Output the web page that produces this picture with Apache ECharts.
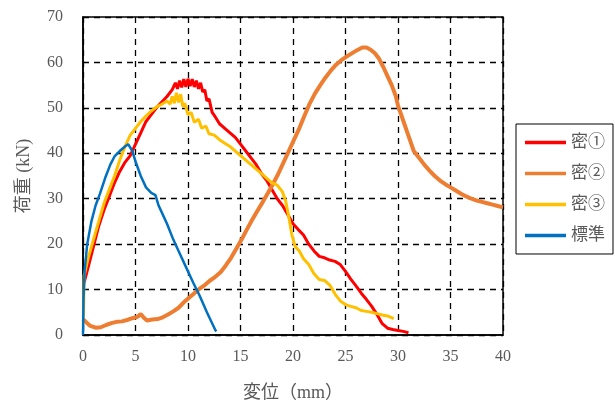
<!DOCTYPE html>
<html><head><meta charset="utf-8">
<script src="https://cdn.jsdelivr.net/npm/echarts@6/dist/echarts.min.js"></script>
<style>html,body{margin:0;padding:0;background:#fff}#c{width:615px;height:407px}</style>
</head><body><div id="c"></div>
<script>
const seriesNames = ['密①', '密②', '密③', '標準'];
const xName = '変位（mm）';
const yName = '荷重 (kN)';

const dens1 = [[0.1,11.5],[0.5,15],[1.0,19.5],[1.5,24],[2.0,27.5],[2.5,30.5],[3.0,33.5],[3.5,36],[4.0,38],[4.5,39.5],[5.0,42],[5.5,44.5],[6.0,47],[6.5,48.5],[7.0,50],[7.5,51.3],[8.0,52.5],[8.5,54],[8.8,55.5],[9.0,54.2],[9.2,56],[9.4,54.5],[9.6,56.3],[9.8,54.6],[10.0,56.4],[10.2,54.8],[10.4,56.3],[10.6,54.6],[10.8,56],[11.0,54.2],[11.2,55.5],[11.4,53.5],[11.6,54],[11.8,51.5],[12.0,52],[12.3,49],[12.6,48],[13.0,46.5],[13.5,45.5],[14.0,44.5],[14.5,43.5],[15.0,42],[15.5,40.5],[16.0,39],[16.5,37.5],[17.0,35.5],[17.5,34],[18.0,32],[18.5,30],[19.0,28.5],[19.5,26.5],[20.0,24.5],[20.5,23.2],[21.0,22],[21.5,20],[22.0,18.5],[22.5,17.3],[23.0,17],[23.5,16.5],[24.0,16.2],[24.5,15.5],[25.0,14],[25.5,12.3],[26.0,10.8],[26.5,9.2],[27.0,7.8],[27.5,6.3],[28.0,4.5],[28.5,2.5],[29.0,1.5],[29.5,1.2],[30.0,1.0],[30.5,0.8],[31.0,0.5]];

const dens2 = [[0,3.5],[0.3,2.8],[0.7,2],[1.2,1.6],[1.7,1.7],[2.2,2.2],[2.7,2.6],[3.2,2.9],[3.7,3],[4.2,3.3],[4.7,3.7],[5.2,4],[5.5,4.6],[5.8,3.8],[6.1,3.2],[6.6,3.4],[7.1,3.5],[7.6,3.9],[8.1,4.5],[8.6,5.2],[9.1,6],[9.6,7.2],[10.1,8.2],[10.6,9.2],[11.1,10.2],[11.6,11],[12.1,12],[12.6,12.8],[13.1,13.8],[13.6,15.3],[14.1,17],[14.6,19],[15.1,21],[15.6,23.2],[16.1,25.3],[16.6,27.3],[17.1,29.2],[17.6,31.2],[18.1,33.3],[18.6,35.5],[19.1,38],[19.6,40.5],[20.1,43],[20.6,45.5],[21.1,48.3],[21.6,51],[22.1,53.2],[22.6,55],[23.1,56.7],[23.6,58.2],[24.1,59.5],[24.6,60.5],[25.1,61.3],[25.6,62],[26.1,62.7],[26.6,63.3],[27.0,63.3],[27.4,62.8],[27.8,62],[28.2,60.8],[28.6,59],[29.0,57],[29.4,55],[29.8,52.5],[30.0,50.5],[30.3,48.5],[30.6,46.5],[30.9,44.5],[31.2,42.5],[31.5,40.5],[32.0,39],[32.5,37.5],[33.0,36.2],[33.5,35],[34.0,34],[34.5,33.2],[35.0,32.5],[35.5,31.8],[36.0,31.1],[36.5,30.5],[37.0,30],[37.5,29.6],[38.0,29.3],[38.5,29],[39.0,28.7],[39.5,28.4],[40.0,28.1]];

const dens3 = [[0.05,4],[0.1,13],[0.5,17],[1.0,21],[1.5,25],[2.0,29],[2.5,32],[3.0,35],[3.5,38.5],[4.0,41.5],[4.5,44],[5.0,45.5],[5.5,47],[6.0,48.2],[6.5,49.3],[7.0,50.2],[7.5,50.8],[8.0,51.5],[8.3,50.8],[8.5,52.5],[8.7,51],[8.9,53.3],[9.1,51.2],[9.3,53],[9.5,50.3],[9.7,51],[10.0,48.5],[10.3,49],[10.6,46.8],[11.0,47.5],[11.3,45.5],[11.7,46],[12.0,44.3],[12.5,44],[13.0,43],[13.5,42.2],[14.0,41.5],[14.5,40.5],[15.0,39.5],[15.5,38.5],[16.0,37.5],[16.5,36.5],[17.0,35.5],[17.5,34.5],[18.0,33.5],[18.5,33],[19.0,31.5],[19.3,29.5],[19.6,26],[19.9,22],[20.2,19.5],[20.6,18.5],[21.0,16.8],[21.5,15.5],[22.0,13.5],[22.5,12.2],[23.0,12],[23.5,11],[24.0,9],[24.5,7.5],[25.0,6.7],[25.5,6.3],[26.0,6],[26.5,5.4],[27.0,5.2],[27.5,5],[28.0,4.7],[28.5,4.4],[29.0,4.2],[29.6,3.6]];

const standard = [[0,0],[0.05,8],[0.15,14],[0.4,20],[0.8,25],[1.2,28.5],[1.6,31],[2.1,34.5],[2.6,37.5],[3.0,39.3],[3.5,40.5],[4.0,41.5],[4.3,42],[4.7,40.5],[5.0,38.2],[5.5,35],[6.0,32.5],[6.5,31.3],[6.9,30.8],[7.2,28.5],[7.6,26.5],[8.0,24.5],[8.6,21],[9.2,18],[9.8,15],[10.5,11.5],[11.1,8.7],[11.8,5],[12.6,1.1],[12.7,0.8]];

const seriesData = [dens1, dens2, dens3, standard];
const colors = ['#FF0000', '#ED7D31', '#FFC000', '#0070C0'];
const widths = [3, 4, 3, 2.5];

const serif = "'Liberation Serif','Times New Roman','Noto Sans CJK JP',serif";
const chart = echarts.init(document.getElementById('c'));
chart.setOption({
  animation: false,
  backgroundColor: '#fff',
  grid: {left: 83, right: 112, top: 17, bottom: 67, show: true, borderColor: '#000', borderWidth: 1.5, containLabel: false},
  legend: {
    orient: 'vertical', left: 516, top: 124,
    padding: [10, 8, 10, 9], itemWidth: 41, itemHeight: 14, itemGap: 14,
    borderColor: '#000', borderWidth: 1,
    icon: 'path://M0,0L41,0L41,3.5L0,3.5Z',
    textStyle: {fontSize: 17, color: '#595959', fontFamily: serif},
    data: seriesNames
  },
  xAxis: {
    type: 'value', min: 0, max: 40, interval: 5,
    name: xName, nameLocation: 'middle', nameGap: 49,
    nameTextStyle: {fontSize: 18, color: '#595959', fontFamily: serif},
    axisLine: {show: true, onZero: false, lineStyle: {color: '#000', width: 1.5}},
    axisTick: {show: false},
    axisLabel: {fontSize: 16, color: '#595959', fontFamily: serif, margin: 14},
    splitLine: {show: true, lineStyle: {color: '#000', type: [6, 5], width: 1.3}}
  },
  yAxis: {
    type: 'value', min: 0, max: 70, interval: 10,
    name: yName, nameLocation: 'middle', nameGap: 50, nameRotate: 90,
    nameTextStyle: {fontSize: 18, color: '#595959', fontFamily: serif},
    axisLine: {show: true, lineStyle: {color: '#000', width: 1.5}},
    axisTick: {show: false},
    axisLabel: {fontSize: 16, color: '#595959', fontFamily: serif, margin: 20},
    splitLine: {show: true, lineStyle: {color: '#000', type: [6, 5], width: 1.3}}
  },
  series: seriesNames.map((n, i) => ({
    name: n, type: 'line', data: seriesData[i], symbol: 'none', showSymbol: false,
    lineStyle: {color: colors[i], width: widths[i]}, itemStyle: {color: colors[i]},
    z: 2 + i
  }))
});
</script></body></html>
